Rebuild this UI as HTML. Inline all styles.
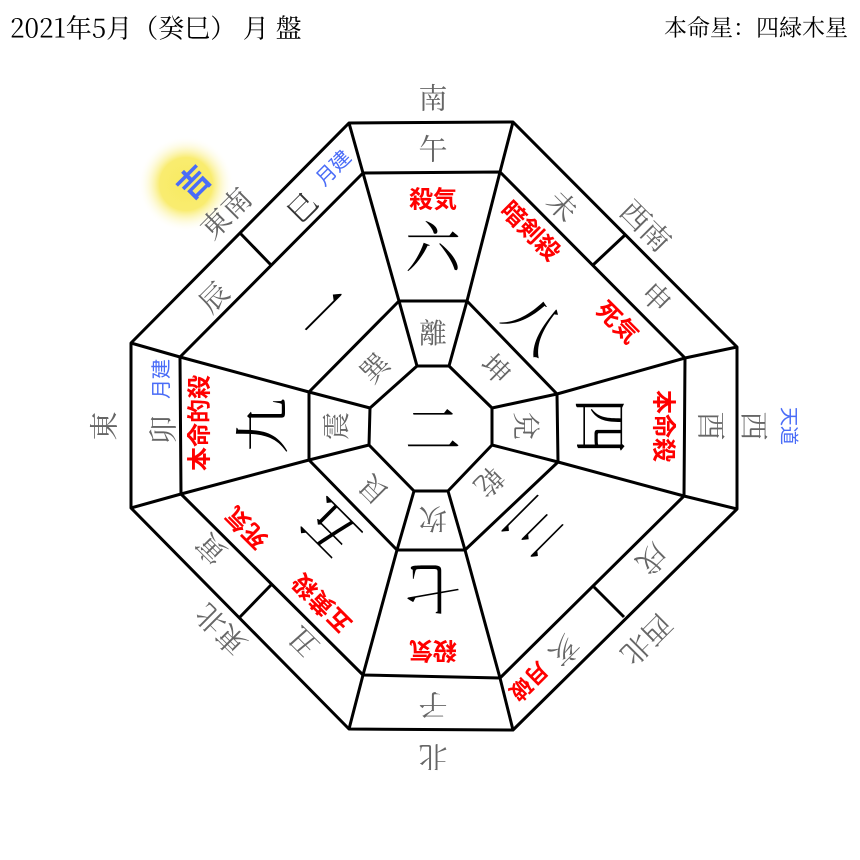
<!DOCTYPE html>
<html><head><meta charset="utf-8"><style>
html,body{margin:0;padding:0;background:#fff;}
svg{display:block;}
.g{fill:#666;font-family:"Noto Serif CJK SC","Liberation Serif",serif;}
.r{fill:#f00;font-family:"Liberation Sans","Noto Sans CJK JP",sans-serif;font-weight:bold;}
.b{fill:#4a6cf7;font-family:"Liberation Sans","Noto Sans CJK JP",sans-serif;}
.k{fill:#000;font-family:"Noto Serif CJK SC","Liberation Serif",serif;}
text{text-anchor:middle;dominant-baseline:central;}
</style></head><body>
<svg width="860" height="860" viewBox="0 0 860 860" xmlns="http://www.w3.org/2000/svg">
<defs>
<radialGradient id="glow" cx="50%" cy="50%" r="50%">
<stop offset="0" stop-color="#f8ea60"/>
<stop offset="0.55" stop-color="#f9ec70"/>
<stop offset="1" stop-color="#fff" stop-opacity="0"/>
</radialGradient>
</defs>
<text x="10" y="27" style="text-anchor:start;font-family:'Noto Serif CJK SC','Liberation Serif',serif;font-size:26px;fill:#000">2021年5月（癸巳） 月 盤</text>
<text x="848" y="26" style="text-anchor:end;font-family:'Noto Serif CJK SC','Liberation Serif',serif;font-size:23px;fill:#000">本命星：四緑木星</text>

<circle cx="186" cy="184" r="48" fill="url(#glow)"/>

<g fill="none" stroke="#000" stroke-width="3" stroke-linejoin="round">
<polygon points="349,123 513,122 737,347 737,509 513,730 349,729 131,508 131,343"/>
<polygon points="363,173 500,172 685,358 684,496 500,678 363,675 181,494 180,357"/>
<polygon points="399,301 467,301 557,394 558,462 465,550 397,550 309,460 309,392"/>
<polygon points="417,366 449,366 492,408 492,445 448,491 414,491 369,445 370,408"/>
<path d="M349,123L363,173M513,122L500,172M737,347L685,358M737,509L684,496M513,730L500,678M349,729L363,675M131,508L181,494M131,343L180,357"/>
<path d="M363,173L399,301M500,172L467,301M685,358L557,394M684,496L558,462M500,678L465,550M363,675L397,550M181,494L309,460M180,357L309,392"/>
<path d="M399,301L417,366M467,301L449,366M557,394L492,408M558,462L492,445M465,550L448,491M397,550L414,491M309,460L369,445M309,392L370,408"/>
<path d="M240,233L271,265M625,235L593,265M624,617L594,587M239,618L271,585"/>
</g>

<text class="k" x="433" y="427" font-size="56">二</text>

<g transform="rotate(0 433 426)">
<text class="g" x="433" y="97" font-size="29">南</text>
<text class="g" x="433" y="148" font-size="29">午</text>
<text class="r" x="433" y="200" font-size="24">殺気</text>
<text class="k" x="433" y="245" font-size="56">六</text>
<text class="g" x="433" y="332" font-size="28">離</text>
</g>
<g transform="rotate(45 433 426)">
<text class="g" x="442" y="133" font-size="29">西南</text>
<text class="g" x="369" y="178" font-size="29">未</text>
<text class="g" x="500" y="176" font-size="29">申</text>
<text class="r" x="364" y="220" font-size="24">暗剣殺</text>
<text class="r" x="490" y="223" font-size="24">死気</text>
<text class="k" x="433" y="279" font-size="56">八</text>
<text class="g" x="437" y="340" font-size="28">坤</text>
</g>
<g transform="rotate(90 433 426)">
<text class="g" x="433" y="104" font-size="29">西</text>
<text class="b" x="433" y="71" font-size="19">天道</text>
<text class="g" x="433" y="147" font-size="29">酉</text>
<text class="r" x="433" y="196" font-size="24">本命殺</text>
<text class="k" x="433" y="256" font-size="56">四</text>
<text class="g" x="433" y="332" font-size="28">兌</text>
</g>
<g transform="rotate(135 433 426)">
<text class="g" x="433" y="123" font-size="29">西北</text>
<text class="g" x="372" y="176" font-size="29">戌</text>
<text class="g" x="499" y="173" font-size="29">亥</text>
<text class="r" x="546" y="178" font-size="22">月破</text>
<text class="k" x="433" y="281" font-size="56">三</text>
<text class="g" x="433" y="346" font-size="28">乾</text>
</g>
<g transform="rotate(180 433 426)">
<text class="g" x="433" y="94" font-size="29">北</text>
<text class="g" x="433" y="146" font-size="29">子</text>
<text class="r" x="433" y="202" font-size="24">殺気</text>
<text class="k" x="433" y="262" font-size="56">七</text>
<text class="g" x="433" y="332" font-size="28">坎</text>
</g>
<g transform="rotate(225 433 426)">
<text class="g" x="439" y="131" font-size="29">東北</text>
<text class="g" x="372" y="181" font-size="29">丑</text>
<text class="g" x="503" y="181" font-size="29">寅</text>
<text class="r" x="386" y="223" font-size="24">五黄殺</text>
<text class="r" x="493" y="223" font-size="24">死気</text>
<text class="k" x="433" y="278" font-size="56">五</text>
<text class="g" x="430" y="338" font-size="28">艮</text>
</g>
<g transform="rotate(270 433 426)">
<text class="g" x="433" y="96" font-size="29">東</text>
<text class="g" x="429" y="155" font-size="29">卯</text>
<text class="b" x="480" y="155" font-size="20">月建</text>
<text class="r" x="436" y="193" font-size="24">本命的殺</text>
<text class="k" x="433" y="253" font-size="56">九</text>
<text class="g" x="433" y="328" font-size="28">震</text>
</g>
<g transform="rotate(315 433 426)">
<text class="b" x="436" y="85" font-size="32" font-weight="bold">吉</text>
<text class="g" x="437" y="128" font-size="29">東南</text>
<text class="g" x="369" y="179" font-size="29">辰</text>
<text class="k" x="495" y="178" font-size="29" style="fill:#333">巳</text>
<text class="b" x="545" y="174" font-size="20">月建</text>
<text class="k" x="436" y="268" font-size="56">一</text>
<text class="g" x="433" y="343" font-size="28">巽</text>
</g>
</svg>
</body></html>
